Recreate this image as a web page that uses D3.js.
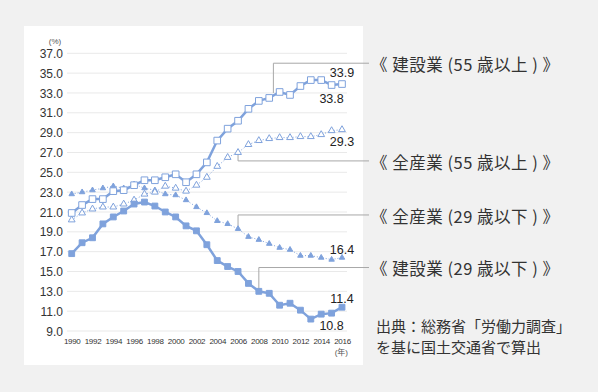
<!DOCTYPE html>
<html>
<head>
<meta charset="utf-8">
<script src="https://cdn.jsdelivr.net/npm/d3@7"></script>
<style>
  body { margin: 0; background: #f1f1f1; }
  svg { display: block; font-family: "Liberation Sans", "Noto Sans CJK JP", sans-serif; }
</style>
</head>
<body>
<script>
var years = d3.range(1990, 2017);

// 建設業 (29歳以下)
var constYoung = [16.8, 17.9, 18.4, 19.8, 20.5, 21.1, 21.8, 22.0, 21.6, 21.0,
  20.5, 19.6, 19.1, 17.7, 16.1, 15.5, 15.0, 13.8, 13.0, 12.8,
  11.6, 11.8, 11.1, 10.2, 10.7, 10.8, 11.4];
// 建設業 (55歳以上)
var constOld = [20.9, 21.7, 22.3, 22.3, 23.1, 23.2, 23.7, 24.2, 24.2, 24.5,
  24.8, 24.0, 24.8, 26.0, 28.2, 29.4, 30.2, 31.4, 32.2, 32.5,
  33.1, 32.8, 33.7, 34.3, 34.3, 33.8, 33.9];
// 全産業 (55歳以上)
var allOld = [20.2, 20.9, 21.3, 21.5, 21.5, 21.8, 22.2, 22.8, 23.0, 23.6,
  23.4, 23.1, 23.7, 24.5, 25.6, 26.5, 27.0, 27.8, 28.2, 28.4,
  28.5, 28.5, 28.6, 28.6, 28.8, 29.2, 29.3];
// 全産業 (29歳以下)
var allYoung = [22.8, 23.0, 23.2, 23.4, 23.6, 23.4, 23.8, 23.4, 23.2, 22.8,
  22.7, 22.2, 21.5, 20.9, 20.1, 19.8, 19.3, 18.5, 18.2, 17.8,
  17.4, 17.2, 16.6, 16.6, 16.4, 16.2, 16.4];

var yTicks = [9, 11, 13, 15, 17, 19, 21, 23, 25, 27, 29, 31, 33, 35, 37];
var xTicks = d3.range(1990, 2017, 2);

var labelNames = ['《 建設業 (55 歳以上 ) 》', '《 全産業 (55 歳以上 ) 》',
  '《 全産業 (29 歳以下 ) 》', '《 建設業 (29 歳以下 ) 》'];
var labelLevels = [36.0, 26.15, 20.7, 15.4];
var leaderYears = [2009.4, 2006, 2006, 2008];
var leaderFrom = [33.0, 27.0, 19.6, 13.0];

var sourceLines = ['出典：総務省「労働力調査」', 'を基に国土交通省で算出'];

var width = 598;
var height = 392;
var blue = '#7fa2dc';

var svg = d3.select('body').append('svg')
  .attr('width', width)
  .attr('height', height);

svg.append('rect')
  .attr('x', 24).attr('y', 26)
  .attr('width', 339).attr('height', 339)
  .attr('fill', '#fff');

var x = d3.scaleLinear().domain([1990, 2016]).range([71.7, 342]);
var y = d3.scaleLinear().domain([9, 37]).range([331, 53.3]);

// grid
svg.append('g').selectAll('line')
  .data(yTicks)
  .join('line')
  .attr('x1', 67).attr('x2', 347)
  .attr('y1', function(d) { return y(d); })
  .attr('y2', function(d) { return y(d); })
  .attr('stroke', '#e9e9e9')
  .attr('stroke-width', 1);

var yAxis = svg.append('g')
  .attr('transform', 'translate(63,0)')
  .call(d3.axisLeft(y).tickValues(yTicks).tickFormat(d3.format('.1f')).tickSize(0));
yAxis.select('.domain').remove();
yAxis.selectAll('text')
  .attr('font-size', 12)
  .attr('fill', '#333')
  .attr('x', 0)
  .attr('dy', '0.34em');

var xAxis = svg.append('g')
  .attr('transform', 'translate(0,338)')
  .call(d3.axisBottom(x).tickValues(xTicks).tickFormat(d3.format('d')).tickSize(0));
xAxis.select('.domain').remove();
xAxis.selectAll('text')
  .attr('font-size', 8)
  .attr('letter-spacing', -0.3)
  .attr('fill', '#333')
  .attr('y', 0)
  .attr('dy', '0.71em');

svg.append('text')
  .attr('x', 55).attr('y', 44)
  .attr('text-anchor', 'middle')
  .attr('font-size', 8)
  .attr('fill', '#555')
  .text('(%)');

svg.append('text')
  .attr('x', 348).attr('y', 355)
  .attr('text-anchor', 'end')
  .attr('font-size', 8)
  .attr('fill', '#555')
  .text('(年)');

// leader lines
leaderYears.forEach(function(yr, i) {
  var lx = x(yr);
  svg.append('path')
    .attr('d', 'M' + lx + ',' + y(leaderFrom[i]) + 'V' + y(labelLevels[i]) + 'H369')
    .attr('fill', 'none')
    .attr('stroke', '#a8a8a8')
    .attr('stroke-width', 1);
});

function drawSeries(values, opts) {
  var line = d3.line()
    .x(function(d, i) { return x(years[i]); })
    .y(function(d) { return y(d); });
  svg.append('path')
    .datum(values)
    .attr('d', line)
    .attr('fill', 'none')
    .attr('stroke', blue)
    .attr('stroke-width', opts.width)
    .attr('stroke-dasharray', opts.dash || null);
  svg.append('g').selectAll('path')
    .data(values)
    .join('path')
    .attr('transform', function(d, i) { return 'translate(' + x(years[i]) + ',' + y(d) + ')'; })
    .attr('d', d3.symbol().type(opts.symbol).size(opts.size))
    .attr('fill', opts.filled ? blue : '#fff')
    .attr('stroke', blue)
    .attr('stroke-width', 1);
}

drawSeries(allYoung, { width: 1, dash: '1,2', symbol: d3.symbolTriangle, size: 13, filled: true });
drawSeries(allOld, { width: 1, dash: '1,2', symbol: d3.symbolTriangle, size: 20, filled: false });
drawSeries(constYoung, { width: 2.5, symbol: d3.symbolSquare, size: 34, filled: true });
drawSeries(constOld, { width: 2.5, symbol: d3.symbolSquare, size: 44, filled: false });

// value labels
var valueLabels = [
  { v: constOld[26], yr: 2016, dy: -11 },
  { v: constOld[25], yr: 2015, dy: 14 },
  { v: allOld[26], yr: 2016, dy: 12 },
  { v: allYoung[26], yr: 2016, dy: -8 },
  { v: constYoung[26], yr: 2016, dy: -9 },
  { v: constYoung[25], yr: 2015, dy: 12 }
];
svg.append('g').selectAll('text')
  .data(valueLabels)
  .join('text')
  .attr('x', function(d) { return x(d.yr); })
  .attr('y', function(d) { return y(d.v) + d.dy; })
  .attr('dy', '0.35em')
  .attr('text-anchor', 'middle')
  .attr('font-size', 12.5)
  .attr('fill', '#222')
  .text(function(d) { return d.v.toFixed(1); });

// series names on the right
svg.append('g').selectAll('text')
  .data(labelNames)
  .join('text')
  .attr('x', 371)
  .attr('y', function(d, i) { return y(labelLevels[i]) + 2; })
  .attr('dy', '0.36em')
  .attr('font-family', '"Noto Sans CJK JP", sans-serif')
  .attr('font-size', 16.5)
  .attr('letter-spacing', 0.5)
  .attr('fill', '#333')
  .text(function(d) { return d; });

svg.append('g').selectAll('text')
  .data(sourceLines)
  .join('text')
  .attr('x', 376)
  .attr('y', function(d, i) { return 327 + i * 21; })
  .attr('dy', '0.36em')
  .attr('font-family', '"Noto Sans CJK JP", sans-serif')
  .attr('font-size', 15)
  .attr('fill', '#333')
  .text(function(d) { return d; });
</script>
</body>
</html>
